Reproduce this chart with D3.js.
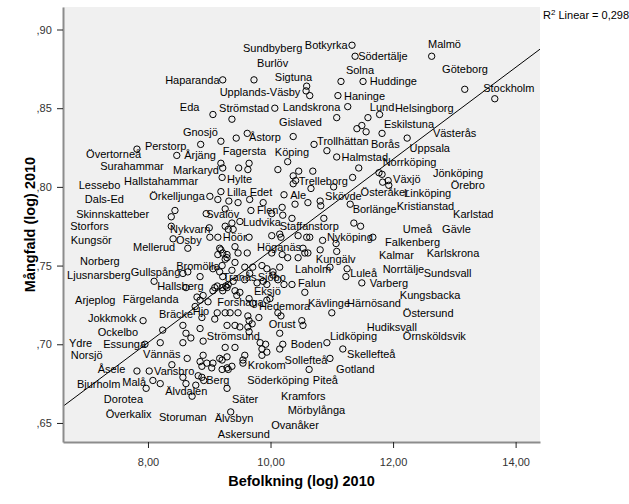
<!DOCTYPE html>
<html><head><meta charset="utf-8">
<script src="https://cdn.jsdelivr.net/npm/d3@7"></script>
<style>body{margin:0;background:#fff;} svg{display:block;font-family:"Liberation Sans",Arial,sans-serif;}</style>
</head><body><svg id="c" width="629" height="504"></svg>
<script>
// Befolkning (log) 2010  (x)
const popLog = [11.33,11.38,12.63,9.22,9.73,11.15,11.51,10.59,10.58,10.64,11.10,13.17,13.66,9.06,10.07,9.37,11.26,11.08,11.59,11.78,
11.41,11.49,11.56,11.82,12.23,9.44,9.62,10.37,8.86,9.19,10.71,7.82,8.47,10.92,11.08,10.28,10.12,10.46,10.69,9.48,
9.65,9.63,9.19,9.22,9.21,10.37,10.41,10.37,10.66,11.03,11.34,11.44,11.77,11.82,11.83,11.92,11.93,10.22,9.19,9.32,
9.47,9.66,9.88,9.68,10.19,10.40,10.61,10.81,10.82,11.30,9.01,9.14,8.44,8.38,8.95,9.26,8.38,9.00,9.26,9.31,
8.41,8.65,9.01,9.14,9.17,9.22,9.29,9.14,9.21,8.57,8.65,8.85,9.06,9.17,9.22,9.09,8.10,8.62,9.13,9.27,
10.87,11.36,11.47,11.67,10.20,10.35,10.02,10.15,10.02,10.17,10.45,10.59,10.64,10.85,11.07,11.08,10.81,10.61,10.53,9.37,
9.39,9.50,9.65,9.19,9.29,9.42,9.47,9.62,9.26,9.42,9.58,9.71,9.86,9.94,10.04,10.15,10.28,10.45,10.56,10.19,
10.02,10.97,11.25,11.23,11.49,9.37,9.39,9.58,9.66,10.04,10.12,10.22,10.35,9.78,9.88,9.94,10.56,8.80,8.85,8.77,
8.90,8.98,9.06,9.22,9.29,8.88,9.13,9.09,9.26,7.92,8.57,8.62,8.70,8.57,8.85,8.90,8.24,8.20,7.95,8.64,
8.90,8.85,8.96,9.06,9.17,9.29,8.39,8.88,9.04,9.21,9.29,8.57,8.62,8.78,8.82,8.88,8.91,8.72,9.29,8.02,
7.82,8.08,8.20,7.97,9.21,9.31,9.42,9.50,9.45,9.65,9.71,9.94,9.99,11.00,10.51,10.53,10.12,10.17,9.34,9.47,
9.63,9.65,9.70,9.81,9.42,9.29,9.50,9.63,9.65,10.15,10.92,10.20,10.15,11.18,10.97,9.55,9.55,10.63,9.35,9.26,
9.42,9.83,9.92,9.86,9.94,9.86,9.58,9.21,9.37,9.31];
// Mångfald (log) 2010  (y)
const divLog = [0.890,0.883,0.883,0.868,0.868,0.867,0.867,0.864,0.861,0.858,0.858,0.862,0.856,0.846,0.850,0.843,0.851,0.844,0.844,0.846,
0.837,0.839,0.835,0.834,0.831,0.831,0.834,0.832,0.827,0.829,0.827,0.824,0.820,0.823,0.819,0.816,0.811,0.810,0.810,0.812,
0.815,0.811,0.815,0.812,0.806,0.807,0.804,0.802,0.799,0.800,0.806,0.812,0.809,0.808,0.803,0.804,0.801,0.795,0.797,0.791,
0.790,0.792,0.790,0.785,0.787,0.789,0.790,0.791,0.788,0.789,0.794,0.792,0.785,0.781,0.783,0.786,0.775,0.774,0.775,0.773,
0.767,0.761,0.768,0.768,0.761,0.758,0.755,0.757,0.750,0.745,0.746,0.743,0.748,0.746,0.743,0.736,0.740,0.736,0.737,0.737,
0.780,0.777,0.775,0.768,0.782,0.780,0.783,0.770,0.769,0.768,0.769,0.768,0.768,0.766,0.764,0.759,0.760,0.758,0.761,0.777,
0.773,0.778,0.768,0.760,0.757,0.762,0.758,0.758,0.754,0.752,0.749,0.749,0.750,0.748,0.746,0.749,0.755,0.755,0.758,0.757,
0.758,0.749,0.748,0.743,0.739,0.747,0.740,0.741,0.745,0.744,0.741,0.738,0.738,0.739,0.740,0.738,0.733,0.730,0.728,0.724,
0.731,0.727,0.734,0.734,0.736,0.717,0.720,0.716,0.720,0.715,0.712,0.707,0.704,0.701,0.710,0.702,0.709,0.701,0.700,0.691,
0.693,0.689,0.688,0.688,0.691,0.692,0.687,0.686,0.685,0.684,0.685,0.679,0.675,0.674,0.680,0.679,0.677,0.667,0.672,0.683,
0.683,0.677,0.675,0.672,0.736,0.738,0.734,0.733,0.731,0.729,0.726,0.728,0.729,0.720,0.715,0.712,0.720,0.718,0.720,0.720,
0.718,0.715,0.713,0.717,0.712,0.712,0.711,0.711,0.708,0.707,0.701,0.700,0.697,0.697,0.691,0.688,0.690,0.684,0.657,0.698,
0.698,0.701,0.700,0.697,0.695,0.693,0.693,0.690,0.686,0.684];
// Point labels and where they are written (in axis units)
const labelNames = ["Sundbyberg","Botkyrka","Malmö","Södertälje","Burlöv","Göteborg","Solna","Haparanda","Sigtuna","Huddinge",
"Stockholm","Upplands-Väsby","Haninge","Eda","Strömstad","Landskrona","Lund","Helsingborg","Gislaved","Eskilstuna",
"Gnosjö","Västerås","Åstorp","Trollhättan","Perstorp","Borås","Uppsala","Övertorneå","Årjäng","Fagersta",
"Köping","Norrköping","Halmstad","Surahammar","Markaryd","Jönköping","Hallstahammar","Lessebo","Hylte","Trelleborg",
"Växjö","Örebro","Lilla Edet","Ale","Skövde","Österåker","Linköping","Dals-Ed","Örkelljunga","Borlänge",
"Kristianstad","Karlstad","Skinnskatteber","Svalöv","Flen","Ludvika","Staffanstorp","Storfors","Nykvarn","Umeå",
"Gävle","Kungsör","Mellerud","Osby","Höör","Nyköping","Falkenberg","Höganäs","Kalmar","Karlskrona",
"Kungälv","Norberg","Bromölla","Ljusnarsberg","Gullspång","Norrtälje","Sundsvall","Laholm","Luleå","Tranås",
"Sjöbo","Hallsberg","Falun","Varberg","Arjeplog","Färgelanda","Eksjö","Kungsbacka","Forshaga","Hedemora",
"Kävlinge","Härnösand","Hjo","Jokkmokk","Bräcke","Östersund","Orust","Ockelbo","Hudiksvall","Strömsund",
"Ydre","Essunga","Örnsköldsvik","Lidköping","Norsjö","Vännäs","Boden","Skellefteå","Sollefteå","Krokom",
"Åsele","Vansbro","Gotland","Bjurholm","Malå","Berg","Söderköping","Piteå","Älvdalen","Dorotea",
"Säter","Kramfors","Överkalix","Storuman","Mörbylånga","Älvsbyn","Ovanåker","Askersund"];
const labelX = [9.55,10.56,12.57,11.43,9.78,12.80,11.23,8.28,10.07,11.62,
13.47,9.17,11.20,8.52,9.16,10.20,11.62,12.03,10.14,11.85,
8.57,12.65,9.65,10.76,7.95,11.64,12.27,6.99,8.59,9.22,
10.07,11.83,11.16,7.22,8.41,12.65,7.61,6.87,9.29,10.46,
12.00,12.94,9.29,10.32,10.89,11.47,12.18,6.97,8.02,11.34,
12.06,12.98,6.83,8.95,9.78,9.55,10.15,6.73,8.36,12.16,
12.80,6.74,7.755,8.457,9.22,10.92,11.87,9.78,11.77,12.55,
10.74,6.89,8.46,6.68,7.72,11.83,12.50,10.40,11.30,9.22,
9.79,8.15,10.45,11.62,6.81,7.59,9.73,12.11,9.13,9.81,
10.61,11.25,8.73,7.02,8.18,12.16,9.97,7.18,11.57,8.96,
6.71,7.27,12.16,10.97,6.74,7.92,10.33,11.25,10.23,9.63,
7.18,8.10,11.07,6.84,7.58,8.95,9.62,10.69,8.28,7.28,
9.37,10.17,7.31,8.18,10.28,9.09,10.01,9.14];
const labelY = [0.888,0.890,0.891,0.883,0.879,0.875,0.874,0.868,0.870,0.867,
0.863,0.860,0.858,0.851,0.850,0.851,0.851,0.850,0.841,0.840,
0.835,0.834,0.832,0.829,0.826,0.827,0.825,0.821,0.820,0.823,
0.822,0.816,0.819,0.813,0.811,0.809,0.804,0.801,0.805,0.804,
0.805,0.801,0.797,0.795,0.794,0.797,0.796,0.792,0.794,0.786,
0.788,0.783,0.783,0.783,0.785,0.778,0.775,0.775,0.773,0.773,
0.773,0.766,0.762,0.766,0.768,0.768,0.765,0.762,0.757,0.758,
0.754,0.753,0.750,0.744,0.746,0.748,0.745,0.748,0.745,0.743,
0.743,0.737,0.739,0.739,0.728,0.729,0.734,0.731,0.727,0.724,
0.726,0.726,0.721,0.717,0.719,0.720,0.713,0.708,0.711,0.705,
0.701,0.700,0.705,0.705,0.693,0.694,0.700,0.694,0.690,0.687,
0.684,0.683,0.684,0.675,0.676,0.677,0.677,0.677,0.670,0.665,
0.665,0.667,0.656,0.654,0.658,0.653,0.649,0.643];
const xTicks = [8, 10, 12, 14];
const yTicks = [0.65, 0.70, 0.75, 0.80, 0.85, 0.90];
const xDomain = [6.613, 14.398];
const yDomain = [0.6379, 0.9143];
const fitIntercept = 0.4678, fitSlope = 0.02915, rSquared = 0.298;
const xTitle = "Befolkning (log) 2010";
const yTitle = "Mångfald (log) 2010";

const svg = d3.select("#c");
const L = 63, R = 540, T = 7, B = 442;
const x = d3.scaleLinear().domain(xDomain).range([L, R]);
const y = d3.scaleLinear().domain(yDomain).range([B, T]);
const comma = d => d.toString().replace(".", ",");

svg.append("rect").attr("x", L).attr("y", T).attr("width", R - L).attr("height", B - T).attr("fill", "#f0f0f0");

svg.append("defs").append("clipPath").attr("id", "clip")
  .append("rect").attr("x", L).attr("y", T).attr("width", R - L).attr("height", B - T);

// regression line
svg.append("line").attr("clip-path", "url(#clip)")
  .attr("x1", x(xDomain[0])).attr("y1", y(fitIntercept + fitSlope * xDomain[0]))
  .attr("x2", x(xDomain[1])).attr("y2", y(fitIntercept + fitSlope * xDomain[1]))
  .attr("stroke", "#000").attr("stroke-width", 1);

// points
const pts = popLog.map((v, i) => [v, divLog[i]]);
svg.append("g").selectAll("circle").data(pts).join("circle")
  .attr("cx", d => x(d[0])).attr("cy", d => y(d[1])).attr("r", 3.2)
  .attr("fill", "none").attr("stroke", "#000").attr("stroke-width", 1);

// labels
svg.append("g").selectAll("text").data(labelNames).join("text")
  .attr("x", (d, i) => x(labelX[i])).attr("y", (d, i) => y(labelY[i]))
  .attr("dominant-baseline", "central").attr("font-size", 11).attr("fill", "#000")
  .text(d => d);

// axes
const ax = svg.append("g").attr("transform", `translate(0,${B})`)
  .call(d3.axisBottom(x).tickValues(xTicks).tickFormat(d => d3.format(".2f")(d).replace(".", ",")).tickSize(6).tickSizeOuter(0));
const ay = svg.append("g").attr("transform", `translate(${L},0)`)
  .call(d3.axisLeft(y).tickValues(yTicks).tickFormat(d => d3.format(".2f")(d).replace("0.", ",")).tickSize(6).tickSizeOuter(0));
[ax, ay].forEach(g => {
  g.select(".domain").attr("stroke", "#8c8c8c").attr("stroke-width", 2);
  g.selectAll(".tick line").attr("stroke", "#222");
  g.selectAll(".tick text").attr("font-size", 11).attr("fill", "#333").attr("font-family", "Liberation Sans, Arial, sans-serif");
});
ax.selectAll(".tick text").attr("dy", "1.4em");
ay.selectAll(".tick text").attr("dx", "-0.2em");

svg.append("text").attr("x", (L + R) / 2).attr("y", 486).attr("text-anchor", "middle")
  .attr("font-size", 14.5).attr("font-weight", "bold").text(xTitle);
svg.append("text").attr("transform", `translate(35,${(T + B) / 2}) rotate(-90)`).attr("text-anchor", "middle")
  .attr("font-size", 14.5).attr("font-weight", "bold").text(yTitle);

const rt = svg.append("text").attr("x", 543).attr("y", 19).attr("font-size", 11);
rt.append("tspan").text("R");
rt.append("tspan").attr("dy", -4).attr("font-size", 8).text("2");
rt.append("tspan").attr("dy", 4).text(" Linear = " + comma(rSquared));
</script></body></html>
